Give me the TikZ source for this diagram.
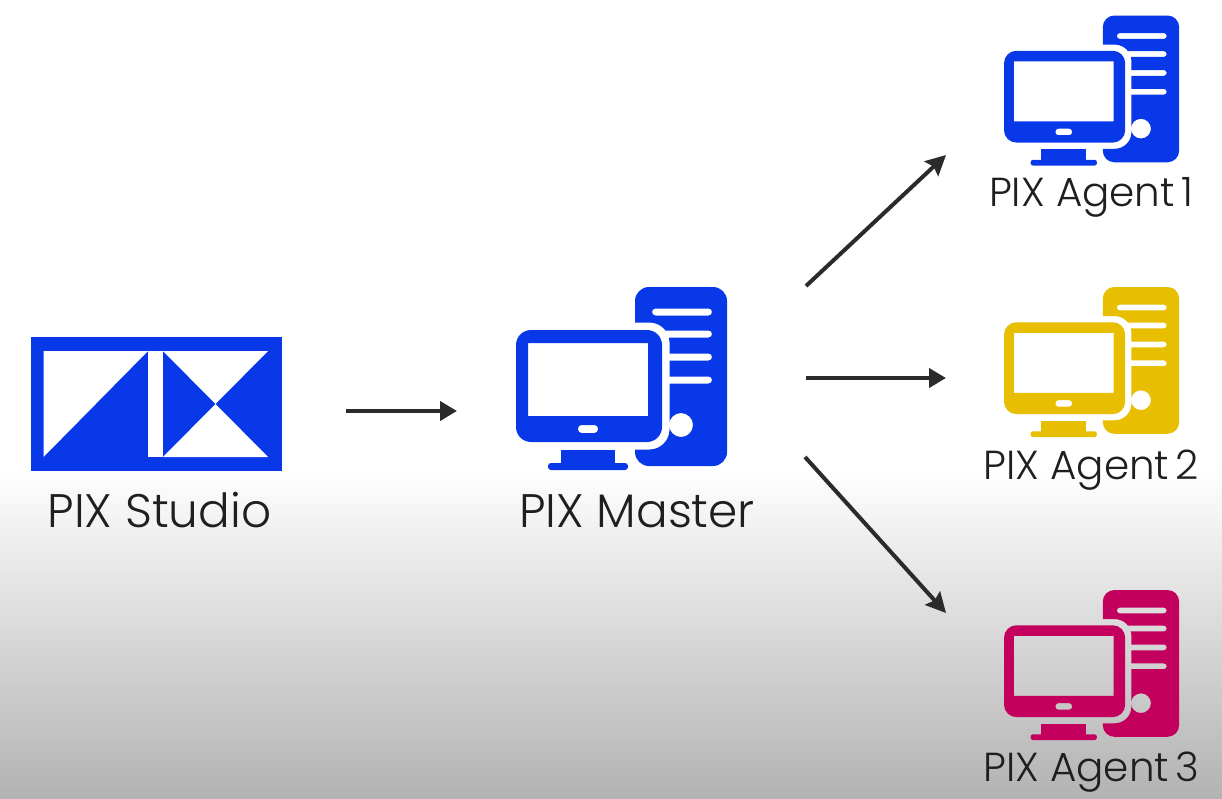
\documentclass[tikz,border=0pt]{standalone}
\usepackage{fontspec}
\setmainfont{Poppins}[UprightFont=* Light]
\usetikzlibrary{arrows.meta}
\definecolor{pixblue}{HTML}{0838E8}
\definecolor{pixyellow}{HTML}{E8BE00}
\definecolor{pixpink}{HTML}{C4005F}
\definecolor{inkdark}{HTML}{2B2B2B}
\tikzset{
  bigarrow/.style={draw=inkdark,line width=4pt,-{Triangle[length=17pt,width=19pt]}},
  slantarrow/.style={draw=inkdark,line width=4pt,-{Stealth[length=20pt,width=20pt,inset=3pt]}},
  biglabel/.style={inner sep=0pt,anchor=base,text=black!88,font=\fontsize{47}{47}\selectfont},
  agentlabel/.style={inner sep=0pt,anchor=base,text=black!88,font=\fontsize{40.5}{41}\selectfont},
  agenticon/.style={xscale=.83,yscale=.82},
  pics/pcicon/.style 2 args={code={
    \begin{scope}[even odd rule]
      \clip (-12,-12) rectangle (225,195)
        [rounded corners=#2*20pt] (-7.5,35.5) rectangle (153.5,162.5);
      \fill[#1] [rounded corners=#2*14pt] (119,0) rectangle (211,179)
        [rounded corners=#2*3.4pt] (136,21.5) rectangle (196,28.5)
        (130,43.5) rectangle (196,50.5) (130,66.5) rectangle (196,73.5) (130,89.5) rectangle (196,96.5)
        [sharp corners] (165,138) circle[radius=12];
    \end{scope}
    \fill[#1,even odd rule] [rounded corners=#2*15pt] (0,43) rectangle (146,155)
      [sharp corners] (12,56) rectangle (132,129)
      [rounded corners=#2*3.5pt] (62,138) rectangle (82,146);
    \fill[#1] (45,163) rectangle (99,177);
    \fill[#1,rounded corners=#2*3pt] (32,176) rectangle (112,183);
  }}
}
\begin{document}
\begin{tikzpicture}[x=1pt,y=-1pt]
\useasboundingbox (0,0) rectangle (1222,798);
\fill[white] (0,0) rectangle (1222,470);
\shade[top color=white,bottom color=black!30] (0,468) rectangle (1222,798);
% logo
\fill[pixblue] (31,337) rectangle (282,470.5);
\fill[white] (43.5,351) -- (148,351) -- (43.5,457) -- cycle;
\fill[white] (148,351) rectangle (163,457);
\fill[white] (163,351) -- (268,351) -- (215.5,404) -- cycle;
\fill[white] (163,457) -- (268,457) -- (215.5,404) -- cycle;
\node[biglabel] (studio) at (159.5,527) {PIX Studio};
% master
\pic at (516,287) {pcicon={pixblue}{1}};
\node[biglabel] (master) at (637,527) {PIX Master};
% agents
\pic[agenticon] at (1004,15.5) {pcicon={pixblue}{.83}};
\node[agentlabel] (agentone) at (1091,206) {PIX Agent\kern-5pt{} 1};
\pic[agenticon] at (1004,287) {pcicon={pixyellow}{.83}};
\node[agentlabel] (agenttwo) at (1091,479) {PIX Agent\kern-5pt{} 2};
\pic[agenticon] at (1004,590) {pcicon={pixpink}{.83}};
\node[agentlabel] (agentthree) at (1091,781) {PIX Agent\kern-5pt{} 3};
% connector ends
\coordinate (sOut) at (346,411);
\coordinate (mIn) at (457,411);
\coordinate (mOutA) at (806,286);
\coordinate (aIn) at (946,155);
\coordinate (mOutB) at (806,378);
\coordinate (bIn) at (946,378);
\coordinate (mOutC) at (805,457);
\coordinate (cIn) at (946,613);
\draw[bigarrow] (sOut) -- (mIn);
\draw[bigarrow] (mOutB) -- (bIn);
\draw[slantarrow] (mOutA) -- (aIn);
\draw[slantarrow] (mOutC) -- (cIn);
\end{tikzpicture}
\end{document}
